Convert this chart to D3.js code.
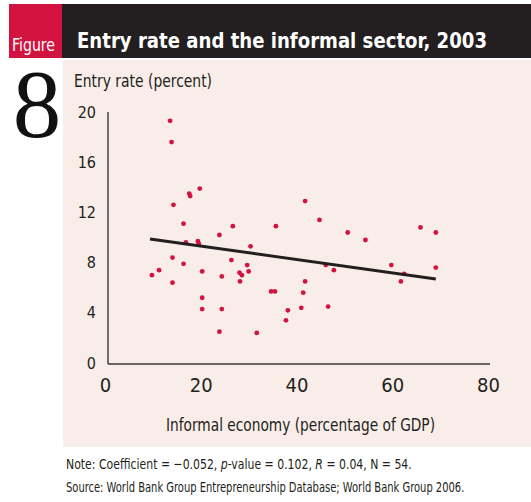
<!DOCTYPE html>
<html>
<head>
<meta charset="utf-8">
<script src="https://cdn.jsdelivr.net/npm/d3@7"></script>
<style>
  html, body { margin: 0; padding: 0; background: #ffffff; }
  svg { display: block; }
</style>
</head>
<body>
<svg id="chart" width="531" height="502"></svg>
<script>
// Informal economy (% of GDP) for each country
const informal = [
  13.6, 13.9, 17.6, 17.8, 19.8, 14.3, 41.8, 16.4, 26.7, 35.7,
  23.9, 44.8, 16.9, 19.4, 19.6, 30.4, 14.1, 16.4, 11.3, 9.8,
  20.3, 26.4, 29.7, 28.1, 28.6, 30.0, 24.4, 28.2, 14.1, 41.8,
  34.7, 35.5, 41.4, 20.3, 20.3, 24.4, 41.0, 38.2, 37.8, 23.9,
  31.7, 50.7, 54.4, 65.9, 69.1, 69.1, 59.8, 62.5, 61.8, 46.1,
  47.8, 46.6
];
// Entry rate (percent) for the same countries
const entry = [
  19.3, 17.6, 13.5, 13.3, 13.9, 12.6, 12.9, 11.1, 10.9, 10.9,
  10.2, 11.4, 9.6, 9.7, 9.5, 9.3, 8.4, 7.9, 7.4, 7.0,
  7.3, 8.2, 7.8, 7.2, 7.0, 7.3, 6.9, 6.5, 6.4, 6.5,
  5.7, 5.7, 5.6, 5.2, 4.3, 4.3, 4.4, 4.2, 3.4, 2.5,
  2.4, 10.4, 9.8, 10.8, 10.4, 7.6, 7.8, 7.1, 6.5, 7.8,
  7.4, 4.5
];
// Fitted regression line end points (x, y)
const trendX = [9.4, 69.1];
const trendY = [9.88, 6.69];

const xTicks = [0, 20, 40, 60, 80];
const yTicks = [0, 4, 8, 12, 16, 20];

const titleText = "Entry rate and the informal sector, 2003";
const figureLabel = "Figure";
const figureNumber = "8";
const yTitle = "Entry rate (percent)";
const xTitle = "Informal economy (percentage of GDP)";
// Note pieces: [text, italic?]
const noteParts = [
  ["Note: Coefficient = \u22120.052, ", false],
  ["p", true],
  ["-value = 0.102, ", false],
  ["R", true],
  [" = 0.04, N = 54.", false]
];
const sourceText = "Source: World Bank Group Entrepreneurship Database; World Bank Group 2006.";

const RED = "#d2123f";
const DARK = "#231f20";
const PANEL = "#f9ede9";
const SANS = "'DejaVu Sans', 'Liberation Sans', sans-serif";

const svg = d3.select("#chart");

// Condensed sans text helper; optional fixed width
function label(sel, opts) {
  const t = sel.append("text")
    .attr("x", opts.x).attr("y", opts.y)
    .attr("text-anchor", opts.anchor || "start")
    .attr("fill", opts.fill || DARK)
    .style("font-family", opts.family || SANS)
    .style("font-stretch", "condensed")
    .style("font-size", opts.size + "px")
    .style("font-weight", opts.weight || "normal");
  if (opts.width) t.attr("textLength", opts.width).attr("lengthAdjust", "spacingAndGlyphs");
  if (opts.text) t.text(opts.text);
  return t;
}

// Text squeezed horizontally (via a scaled group) to span width w
function squeezed(x0, y0, w, size, build) {
  const g = svg.append("g");
  const t = label(g, { x: 0, y: 0, size: size });
  build(t);
  const len = t.node().getComputedTextLength();
  g.attr("transform", `translate(${x0},${y0}) scale(${w / len},1)`);
  return t;
}

// Header band
svg.append("rect").attr("x", 62).attr("y", 4).attr("width", 469).attr("height", 54).attr("fill", DARK);
svg.append("rect").attr("x", 9).attr("y", 4).attr("width", 53).attr("height", 54).attr("fill", RED);
label(svg, { x: 12, y: 51, size: 18, fill: "#fff", width: 43, text: figureLabel });
label(svg, { x: 77, y: 48, size: 22, weight: "bold", fill: "#fff", width: 410, text: titleText });

// Plot panel
svg.append("rect").attr("x", 63).attr("y", 60).attr("width", 468).attr("height", 387).attr("fill", PANEL);

// Large figure number
svg.append("text").attr("x", 37).attr("y", 137).attr("text-anchor", "middle")
  .style("font-family", "'Liberation Serif', 'DejaVu Serif', serif")
  .style("font-size", "97px").attr("fill", "#111").text(figureNumber);

// Scales
const x = d3.scaleLinear().domain([0, 80]).range([105, 488]);
const y = d3.scaleLinear().domain([0, 20]).range([363, 112]);

// Axis lines
svg.append("line").attr("x1", 108).attr("x2", 108).attr("y1", 112).attr("y2", 364)
  .attr("stroke", "#3a3536").attr("stroke-width", 1.4);
svg.append("line").attr("x1", 108).attr("x2", 490).attr("y1", 364).attr("y2", 364)
  .attr("stroke", "#3a3536").attr("stroke-width", 1.6);

// Y axis labels
const yAxis = svg.append("g").attr("transform", "translate(108,0)")
  .call(d3.axisLeft(y).tickValues(yTicks).tickSize(0).tickPadding(12).tickFormat(d3.format("d")));
yAxis.select(".domain").remove();
yAxis.selectAll("text").attr("fill", DARK)
  .style("font-family", SANS).style("font-stretch", "condensed").style("font-size", "16px");

// X axis labels
const xAxis = svg.append("g").attr("transform", "translate(0,364)")
  .call(d3.axisBottom(x).tickValues(xTicks).tickSize(0).tickFormat(d3.format("d")));
xAxis.select(".domain").remove();
xAxis.selectAll("text").attr("fill", DARK).attr("y", 28).attr("dy", 0)
  .style("font-family", SANS).style("font-stretch", "condensed").style("font-size", "20px");

// Axis titles
label(svg, { x: 74, y: 87, size: 18, width: 138, text: yTitle });
label(svg, { x: 166, y: 431, size: 18, width: 269, text: xTitle });

// Points
const pts = informal.map((v, i) => ({ x: v, y: entry[i] }));
svg.append("g").selectAll("circle").data(pts).join("circle")
  .attr("cx", d => x(d.x)).attr("cy", d => y(d.y)).attr("r", 2.4).attr("fill", RED);

// Regression line
const line = d3.line().x(d => x(d[0])).y(d => y(d[1]));
svg.append("path").datum(trendX.map((v, i) => [v, trendY[i]]))
  .attr("d", line).attr("fill", "none").attr("stroke", DARK).attr("stroke-width", 3);

// Note and source lines
squeezed(66, 469, 346, 14.5, t => {
  t.selectAll("tspan").data(noteParts).join("tspan")
    .style("font-style", d => d[1] ? "italic" : "normal")
    .text(d => d[0]);
});
squeezed(66, 492, 399, 14.5, t => t.text(sourceText));
</script>
</body>
</html>
